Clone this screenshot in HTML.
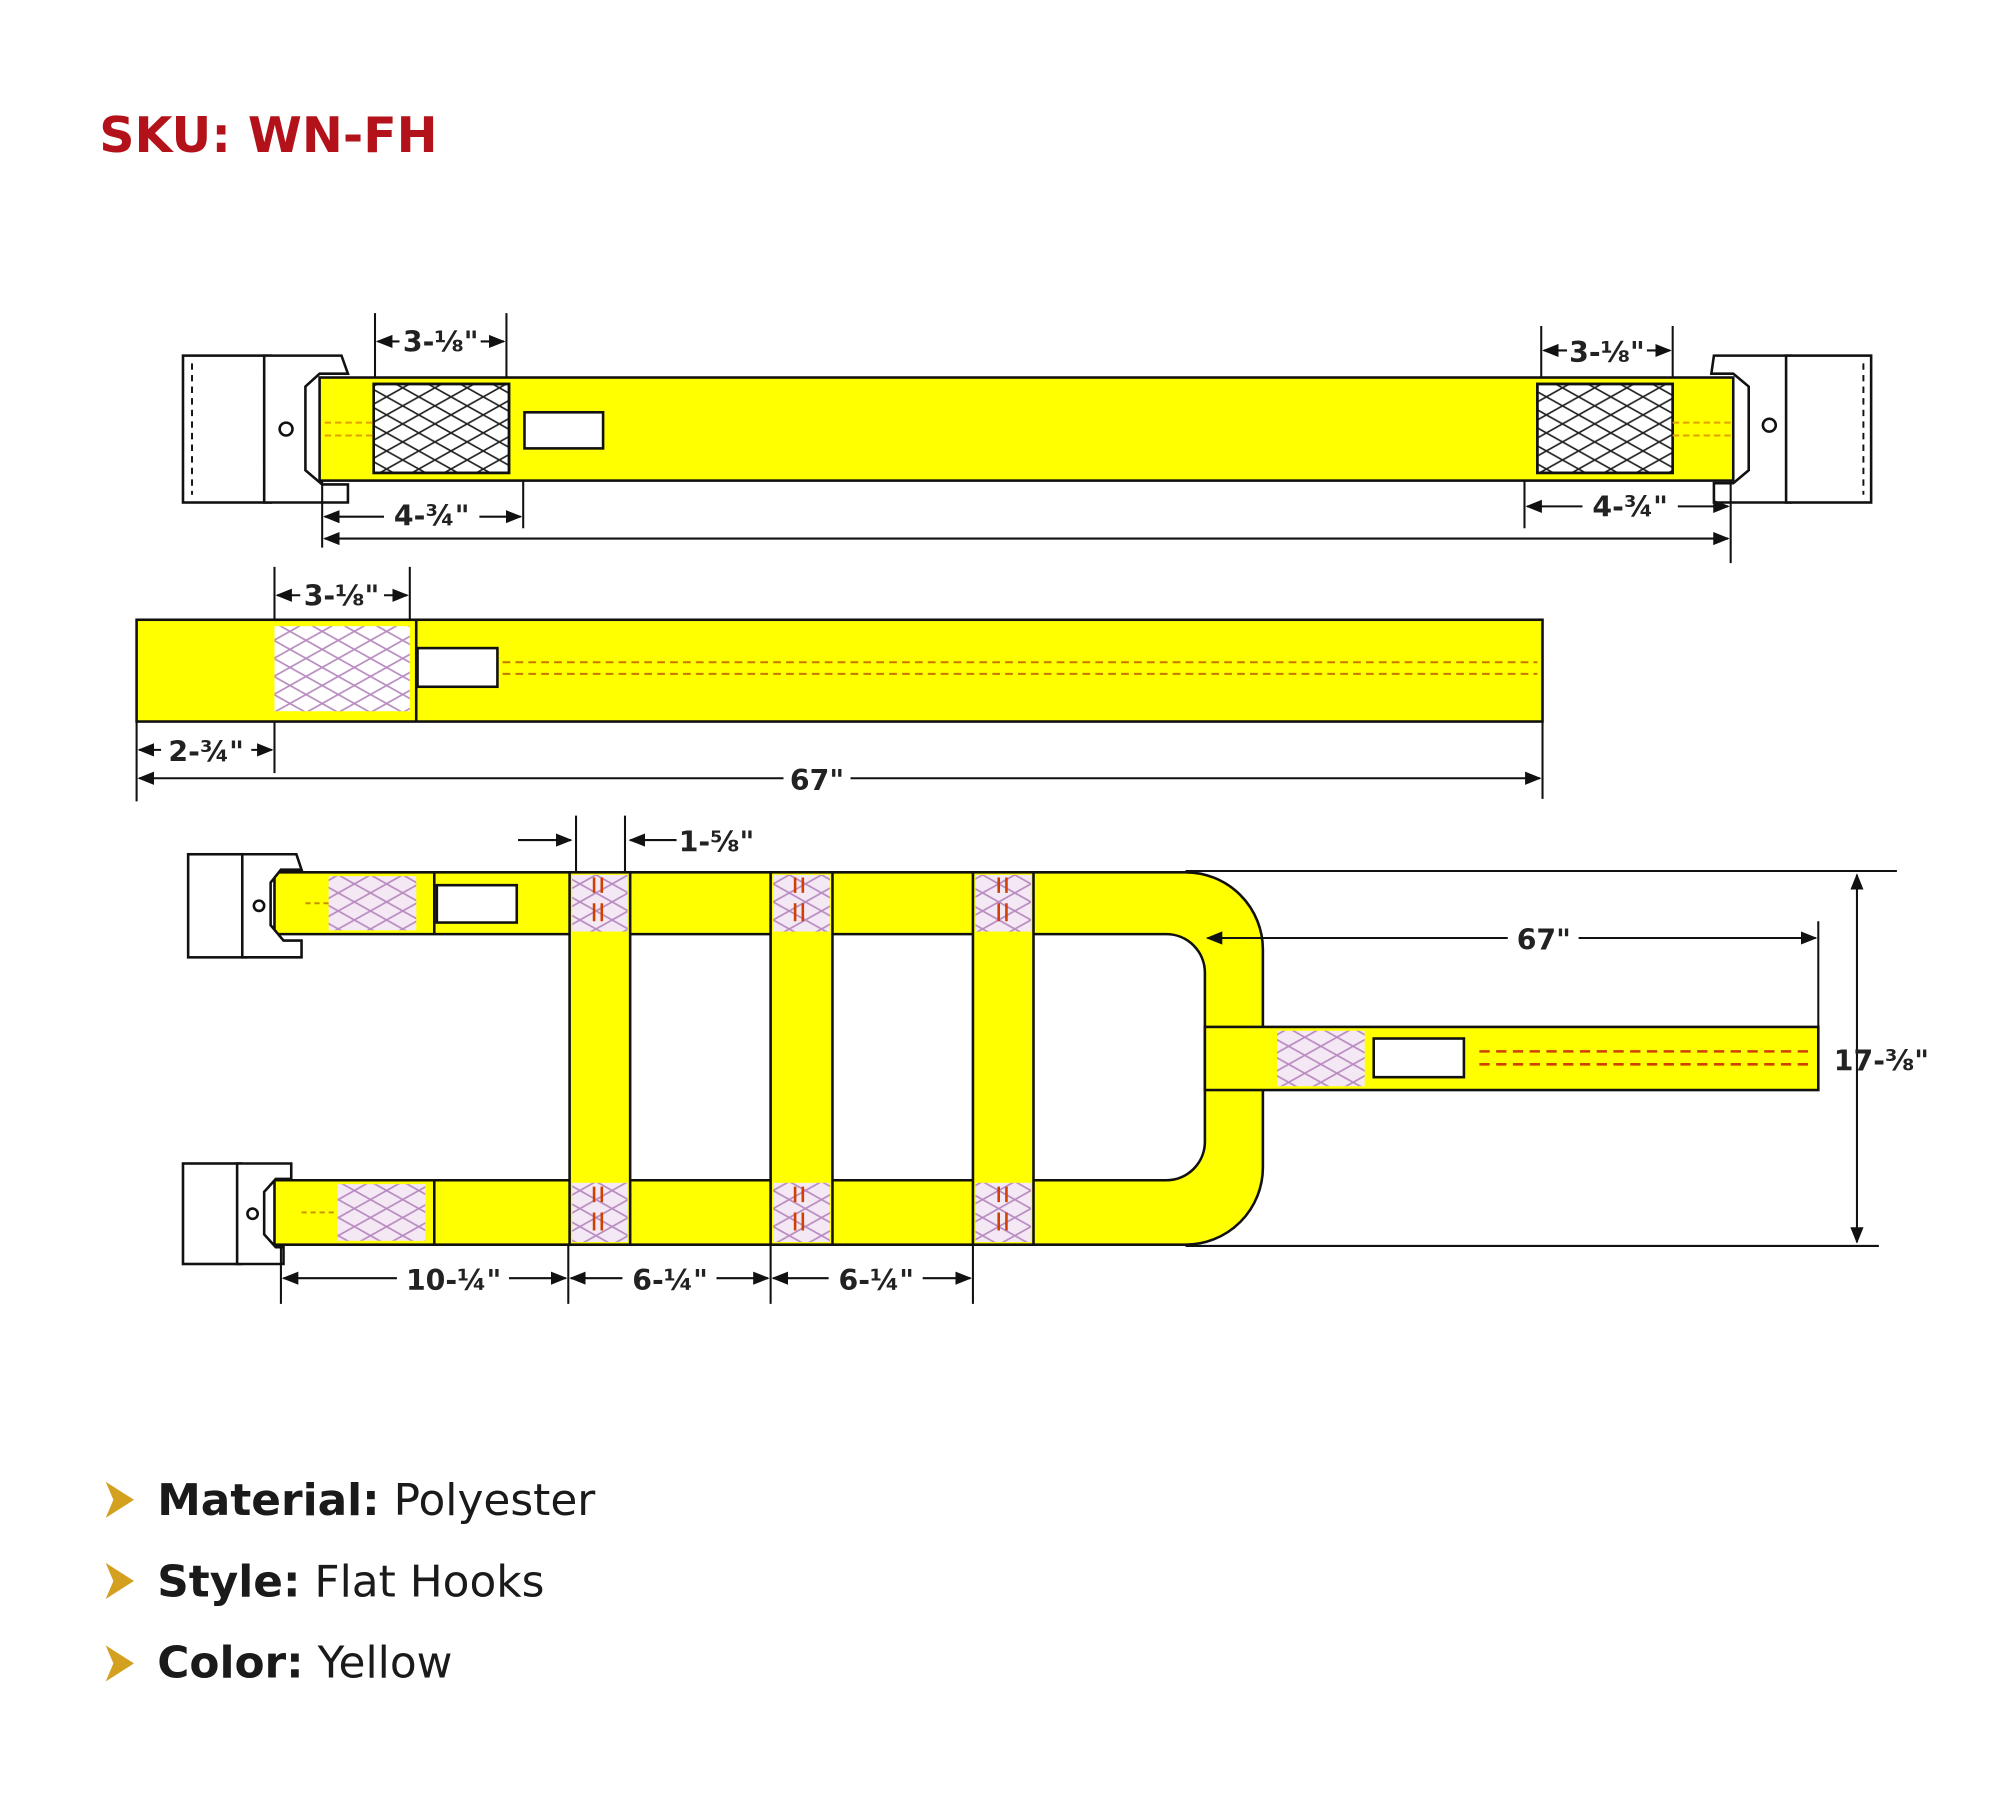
<!DOCTYPE html>
<html><head><meta charset="utf-8"><style>
html,body{margin:0;padding:0;background:#fff}
svg{display:block}
text{font-family:"DejaVu Sans","Liberation Sans",sans-serif}
</style></head><body>
<svg width="2000" height="1800" viewBox="0 0 1552 1397" preserveAspectRatio="none" xmlns="http://www.w3.org/2000/svg">
<defs>
<pattern id="zz" width="50" height="14" patternUnits="userSpaceOnUse">
<path d="M0 0 L25 14 L50 0 M0 14 L25 0 L50 14" stroke="#222" stroke-width="1.3" fill="none"/>
</pattern>
<pattern id="zp" width="50" height="14" patternUnits="userSpaceOnUse">
<path d="M0 0 L25 14 L50 0 M0 14 L25 0 L50 14" stroke="#b88ac0" stroke-width="1.3" fill="none"/>
</pattern>
<marker id="a" viewBox="0 0 10 10" refX="9" refY="5" markerWidth="8" markerHeight="8" orient="auto-start-reverse"><path d="M0 1 L10 5 L0 9z" fill="#111"/></marker>
</defs>
<rect width="1552" height="1397" fill="#fff"/>
<text x="77" y="118" font-size="38" font-weight="bold" fill="#b3121a">SKU: WN-FH</text>

<g stroke="#111" stroke-width="2" fill="#fff">
<rect x="142" y="276" width="68" height="114"/>
<path d="M205 276 H265 L270 290 H248 L237 300 V365 L250 376 H270 V390 H205z"/>
<rect x="248" y="293" width="1097" height="80" fill="#ffff00"/>
<rect x="290" y="298" width="105" height="69" fill="#fff"/>
<rect x="290" y="298" width="105" height="69" fill="url(#zz)"/>
<rect x="407" y="320" width="61" height="28"/>
<rect x="1193" y="298" width="105" height="69" fill="#fff"/>
<rect x="1193" y="298" width="105" height="69" fill="url(#zz)"/>
<path d="M1330 276 H1390 V390 H1330 V375 H1345 L1357 365 V300 L1345 290 H1328z"/>
<rect x="1386" y="276" width="66" height="114"/>
<circle cx="222" cy="333" r="5"/><circle cx="1373" cy="330" r="5"/>
</g>
<g stroke="#111" stroke-width="1.5" stroke-dasharray="5 4"><line x1="149" y1="282" x2="149" y2="384"/><line x1="1446" y1="282" x2="1446" y2="384"/></g>
<g stroke="#e0a000" stroke-width="1.5" stroke-dasharray="5 3"><line x1="252" y1="328" x2="290" y2="328"/><line x1="252" y1="338" x2="290" y2="338"/><line x1="1298" y1="328" x2="1343" y2="328"/><line x1="1298" y1="338" x2="1343" y2="338"/></g>

<g stroke="#111" stroke-width="2">
<rect x="106" y="481" width="1091" height="79" fill="#ffff00"/>
<rect x="213" y="486" width="105" height="66" fill="#fff" stroke="none"/>
<rect x="213" y="486" width="105" height="66" fill="url(#zp)" stroke="none"/>
<line x1="323" y1="481" x2="323" y2="560"/>
<rect x="324" y="503" width="62" height="30" fill="#fff"/>
</g>
<g stroke="#c87800" stroke-width="1.5" stroke-dasharray="6 4"><line x1="390" y1="514" x2="1193" y2="514"/><line x1="390" y1="523" x2="1193" y2="523"/></g>

<g stroke="#111" stroke-width="2">
<path d="M213 677 H920 A60 60 0 0 1 980 737 V906 A60 60 0 0 1 920 966 H213 V916 H905 A30 30 0 0 0 935 886 V755 A30 30 0 0 0 905 725 H213z" fill="#ffff00"/>
<rect x="442" y="677" width="47" height="289" fill="#ffff00"/>
<rect x="598" y="677" width="48" height="289" fill="#ffff00"/>
<rect x="755" y="677" width="47" height="289" fill="#ffff00"/>
<rect x="935" y="797" width="476" height="49" fill="#ffff00"/>
<rect x="339" y="687" width="62" height="29" fill="#fff"/>
<rect x="1066" y="806" width="70" height="30" fill="#fff"/>
<line x1="337" y1="677" x2="337" y2="725"/><line x1="337" y1="916" x2="337" y2="966"/>
<rect x="146" y="663" width="45" height="80" fill="#fff"/>
<path d="M188 663 H230 L234 675 H218 L210 685 V718 L220 730 H234 V743 H188z" fill="#fff"/>
<rect x="142" y="903" width="45" height="78" fill="#fff"/>
<path d="M184 903 H226 V915 H214 L205 925 V958 L214 968 H220 V981 H184z" fill="#fff"/>
<circle cx="201" cy="703" r="4" fill="#fff"/><circle cx="196" cy="942" r="4" fill="#fff"/>
</g>
<g>
<rect x="255" y="680" width="68" height="42" fill="#f4e8f4"/><rect x="255" y="680" width="68" height="42" fill="url(#zp)"/>
<rect x="262" y="919" width="68" height="44" fill="#f4e8f4"/><rect x="262" y="919" width="68" height="44" fill="url(#zp)"/>
<rect x="991" y="800" width="68" height="43" fill="#f4e8f4"/><rect x="991" y="800" width="68" height="43" fill="url(#zp)"/>
<g fill="#f4e8f4"><rect x="444" y="679" width="43" height="44"/><rect x="600" y="679" width="44" height="44"/><rect x="757" y="679" width="43" height="44"/><rect x="444" y="918" width="43" height="46"/><rect x="600" y="918" width="44" height="46"/><rect x="757" y="918" width="43" height="46"/></g>
<g fill="url(#zp)"><rect x="444" y="679" width="43" height="44"/><rect x="600" y="679" width="44" height="44"/><rect x="757" y="679" width="43" height="44"/><rect x="444" y="918" width="43" height="46"/><rect x="600" y="918" width="44" height="46"/><rect x="757" y="918" width="43" height="46"/></g>
<g stroke="#d04000" stroke-width="2"><path d="M461 681V693M467 681V693M461 701V715M467 701V715M617 681V693M623 681V693M617 701V715M623 701V715M775 681V693M781 681V693M775 701V715M781 701V715M461 921V933M467 921V933M461 941V955M467 941V955M617 921V933M623 921V933M617 941V955M623 941V955M775 921V933M781 921V933M775 941V955M781 941V955"/></g>
</g>
<g stroke="#d04000" stroke-width="2" stroke-dasharray="8 5"><line x1="1148" y1="816" x2="1408" y2="816"/><line x1="1148" y1="826" x2="1408" y2="826"/></g>
<g stroke="#c89000" stroke-width="1.5" stroke-dasharray="4 3"><line x1="237" y1="701" x2="255" y2="701"/><line x1="234" y1="941" x2="260" y2="941"/></g>

<g stroke="#111" stroke-width="1.6" fill="none">
<path d="M291 243V293M393 243V293M250 373V425M406 373V410M1196 253V293M1298 253V293M1183 373V410M1343 373V437"/>
<line x1="293" y1="265" x2="310" y2="265" marker-start="url(#a)"/><line x1="373" y1="265" x2="391" y2="265" marker-end="url(#a)"/>
<line x1="252" y1="401" x2="298" y2="401" marker-start="url(#a)"/><line x1="372" y1="401" x2="404" y2="401" marker-end="url(#a)"/>
<line x1="252" y1="418" x2="1341" y2="418" marker-start="url(#a)" marker-end="url(#a)"/>
<line x1="1198" y1="272" x2="1216" y2="272" marker-start="url(#a)"/><line x1="1278" y1="272" x2="1296" y2="272" marker-end="url(#a)"/>
<line x1="1185" y1="393" x2="1228" y2="393" marker-start="url(#a)"/><line x1="1302" y1="393" x2="1341" y2="393" marker-end="url(#a)"/>
<path d="M213 440V481M318 440V481M106 560V622M213 560V600M1197 560V620"/>
<line x1="215" y1="462" x2="233" y2="462" marker-start="url(#a)"/><line x1="298" y1="462" x2="316" y2="462" marker-end="url(#a)"/>
<line x1="108" y1="582" x2="125" y2="582" marker-start="url(#a)"/><line x1="195" y1="582" x2="211" y2="582" marker-end="url(#a)"/>
<line x1="108" y1="604" x2="608" y2="604" marker-start="url(#a)"/><line x1="660" y1="604" x2="1195" y2="604" marker-end="url(#a)"/>
<path d="M447 633V677M485 633V677"/>
<line x1="402" y1="652" x2="443" y2="652" marker-end="url(#a)"/><line x1="525" y1="652" x2="489" y2="652" marker-end="url(#a)"/>
<path d="M920 676H1472M920 967H1458"/>
<line x1="1441" y1="679" x2="1441" y2="964" marker-start="url(#a)" marker-end="url(#a)"/>
<line x1="937" y1="728" x2="1170" y2="728" marker-start="url(#a)"/><line x1="1225" y1="728" x2="1409" y2="728" marker-end="url(#a)"/>
<path d="M1411 715V797"/>
<path d="M218 966V1012M441 966V1012M598 966V1012M755 966V1012"/>
<line x1="220" y1="992" x2="308" y2="992" marker-start="url(#a)"/><line x1="395" y1="992" x2="439" y2="992" marker-end="url(#a)"/>
<line x1="443" y1="992" x2="483" y2="992" marker-start="url(#a)"/><line x1="556" y1="992" x2="596" y2="992" marker-end="url(#a)"/>
<line x1="600" y1="992" x2="643" y2="992" marker-start="url(#a)"/><line x1="716" y1="992" x2="753" y2="992" marker-end="url(#a)"/>
</g>
<g font-size="22" font-weight="bold" fill="#222" text-anchor="middle">
<text x="342" y="273">3-⅛"</text><text x="335" y="408">4-¾"</text>
<text x="1247" y="281">3-⅛"</text><text x="1265" y="401">4-¾"</text>
<text x="265" y="470">3-⅛"</text><text x="160" y="591">2-¾"</text><text x="634" y="613">67"</text>
<text x="556" y="661">1-⅝"</text><text x="1198" y="737">67"</text><text x="1460" y="831">17-⅜"</text>
<text x="352" y="1001">10-¼"</text><text x="520" y="1001">6-¼"</text><text x="680" y="1001">6-¼"</text>
</g>

<g fill="#d4a020">
<path d="M82 1150 L104 1164 L82 1178 L88 1164z"/><path d="M82 1213 L104 1227 L82 1241 L88 1227z"/><path d="M82 1277 L104 1291 L82 1305 L88 1291z"/>
</g>
<g font-size="34" fill="#1a1a1a">
<text x="122" y="1176"><tspan font-weight="bold">Material:</tspan> Polyester</text>
<text x="122" y="1239"><tspan font-weight="bold">Style:</tspan> Flat Hooks</text>
<text x="122" y="1302"><tspan font-weight="bold">Color:</tspan> Yellow</text>
</g>
</svg>
</body></html>
